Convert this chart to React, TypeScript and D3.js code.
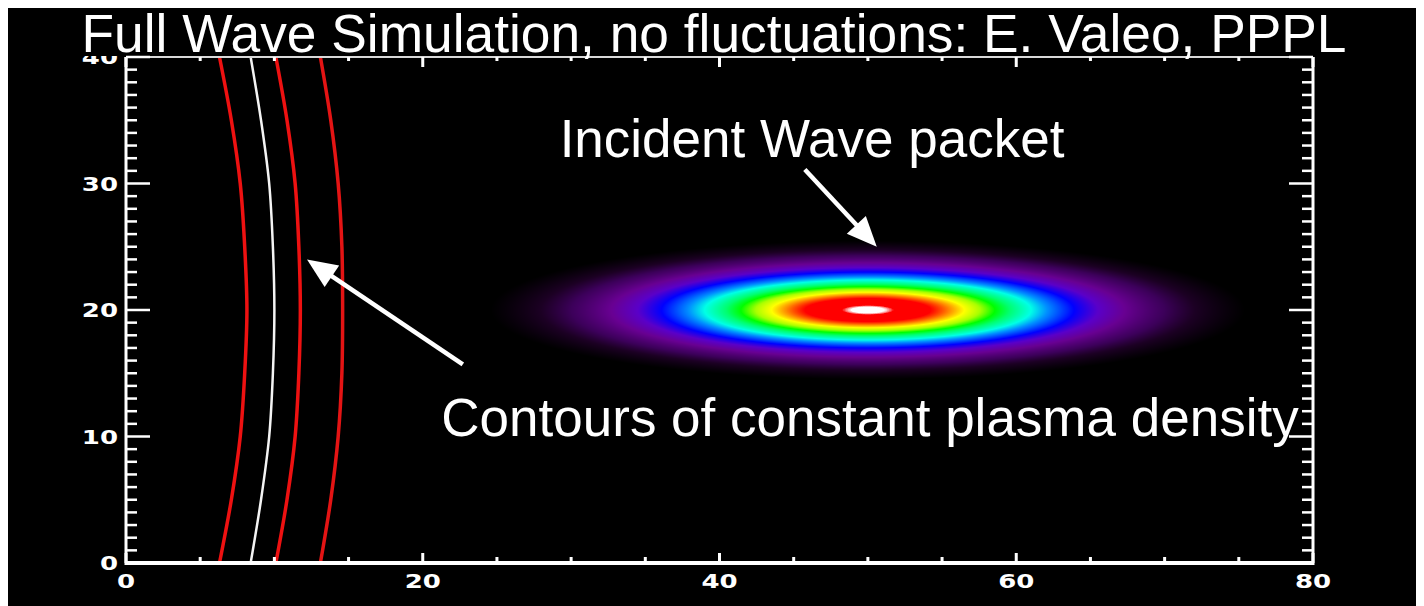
import React, { useMemo } from "react";
import * as d3 from "d3";

// Axis ranges and tick labels
const xDomain = [0, 80];
const yDomain = [0, 40];
const xTickValues = [0, 20, 40, 60, 80];
const yTickValues = [0, 10, 20, 30, 40];
const xMinorStep = 5;
const yMinorStep = 1;

// Density contours: x position of each contour at the sampled heights
const contourHeights = [0, 5, 10, 15, 20, 25, 30, 35, 40];
const contourInner = [6.3, 7.1, 7.7, 8.0, 8.15, 8.0, 7.7, 7.1, 6.3];
const contourCritical = [8.4, 9.1, 9.65, 9.9, 10.0, 9.9, 9.65, 9.1, 8.4];
const contourMiddle = [10.1, 10.85, 11.4, 11.65, 11.75, 11.65, 11.4, 10.85, 10.1];
const contourOuter = [13.1, 13.8, 14.3, 14.55, 14.6, 14.55, 14.3, 13.8, 13.1];

// Incident Gaussian wave packet: centre (x, y) and 1/e half-widths (x, y)
const packetCenter = [50, 20];
const packetWidth = [16, 3.45];

// Rainbow + white colour table
const tableStops = [0, 0.08, 0.15, 0.21, 0.31, 0.39, 0.47, 0.565, 0.623, 0.7, 0.751, 0.8, 0.848, 0.885, 0.932, 0.988, 0.995, 1];
const tableColors = [
  "#000000", "#000000", "#1c0024", "#3c005a", "#680092", "#5a00c8", "#0000ff",
  "#0090ff", "#00ffe6", "#00ff70", "#00ff00", "#a8ff00", "#ffff00", "#ff9400",
  "#ff0000", "#ff0000", "#ffffff", "#ffffff",
];

// Annotation arrows, in data coordinates: [tailX, tailY, tipX, tipY]
const packetArrow = [45.75, 31.1, 50.6, 25.0];
const contourArrow = [22.7, 15.7, 12.2, 24.0];

const titleText = "Full Wave Simulation, no fluctuations: E. Valeo, PPPL";
const packetLabel = "Incident Wave packet";
const contourLabel = "Contours of constant plasma density";

const PAGE_W = 1424;
const PAGE_H = 606;
const OFFSET = 8;
const PLOT = { left: 126, right: 1313, top: 57, bottom: 563 };
const SANS = "'Liberation Sans', Arial, Helvetica, sans-serif";
const TICK_FONT = "'DejaVu Sans', sans-serif";

function Arrow({ seg, x, y }: { seg: number[]; x: any; y: any }) {
  const x0 = x(seg[0]), y0 = y(seg[1]), x1 = x(seg[2]), y1 = y(seg[3]);
  const ang = Math.atan2(y1 - y0, x1 - x0);
  const headLen = 30, headHalf = 13;
  const bx = x1 - headLen * Math.cos(ang), by = y1 - headLen * Math.sin(ang);
  const nx = -Math.sin(ang), ny = Math.cos(ang);
  const pts = [
    [x1, y1],
    [bx + nx * headHalf, by + ny * headHalf],
    [bx - nx * headHalf, by - ny * headHalf],
  ];
  return (
    <g>
      <line x1={x0} y1={y0} x2={bx + 2 * Math.cos(ang)} y2={by + 2 * Math.sin(ang)} stroke="#fff" strokeWidth={4.5} />
      <polygon points={pts.map((p) => p.join(",")).join(" ")} fill="#fff" />
    </g>
  );
}

export default function App() {
  const x = d3.scaleLinear().domain(xDomain).range([PLOT.left, PLOT.right]);
  const y = d3.scaleLinear().domain(yDomain).range([PLOT.bottom, PLOT.top]);

  const packetImage = useMemo(() => {
    const w = Math.round(PLOT.right - PLOT.left);
    const h = Math.round(PLOT.bottom - PLOT.top);
    const canvas = document.createElement("canvas");
    canvas.width = w;
    canvas.height = h;
    const ctx = canvas.getContext("2d");
    if (!ctx) return "";
    const color = d3.scaleLinear<string>().domain(tableStops).range(tableColors).interpolate(d3.interpolateRgb).clamp(true);
    const N = 2048;
    const lut: number[][] = d3.range(N).map((i) => {
      const c = d3.rgb(color(i / (N - 1)));
      return [c.r, c.g, c.b];
    });
    const img = ctx.createImageData(w, h);
    for (let j = 0; j < h; j++) {
      const yy = y.invert(PLOT.top + j + 0.5);
      const dy = (yy - packetCenter[1]) / packetWidth[1];
      for (let i = 0; i < w; i++) {
        const xx = x.invert(PLOT.left + i + 0.5);
        const dx = (xx - packetCenter[0]) / packetWidth[0];
        const f = Math.exp(-(dx * dx + dy * dy));
        const c = lut[Math.min(N - 1, Math.floor(f * (N - 1)))];
        const k = (j * w + i) * 4;
        img.data[k] = c[0];
        img.data[k + 1] = c[1];
        img.data[k + 2] = c[2];
        img.data[k + 3] = 255;
      }
    }
    ctx.putImageData(img, 0, 0);
    return canvas.toDataURL();
  }, []);

  const contourLine = d3
    .line<[number, number]>()
    .x((d) => x(d[0]))
    .y((d) => y(d[1]))
    .curve(d3.curveCatmullRom);
  const contours = [
    { values: contourInner, stroke: "#ee1111", width: 3.5 },
    { values: contourCritical, stroke: "#f4f4f4", width: 2.5 },
    { values: contourMiddle, stroke: "#ee1111", width: 3.5 },
    { values: contourOuter, stroke: "#e41414", width: 3.5 },
  ];

  const xMinor = d3.range(xDomain[0], xDomain[1] + 0.001, xMinorStep).filter((v) => !xTickValues.includes(v));
  const yMinor = d3.range(yDomain[0], yDomain[1] + 0.001, yMinorStep).filter((v) => !yTickValues.includes(v));

  const xMajorLen = 10, xMinorLen = 6;
  const yMajorLen = 24, yMinorLen = 11;

  const tickLabel = (txt: string, px: number, py: number, anchor: "middle" | "end") => (
    <text
      key={txt + px + py}
      transform={`translate(${px},${py}) scale(1.3,1)`}
      textAnchor={anchor}
      dominantBaseline="central"
      fill="#fff"
      fontFamily={TICK_FONT}
      fontWeight="bold"
      fontSize={20}
    >
      {txt}
    </text>
  );

  return (
    <svg width={PAGE_W - OFFSET} height={PAGE_H - OFFSET} style={{ display: "block", background: "#000" }}>
      <g transform={`translate(${-OFFSET},${-OFFSET})`}>
        <rect x={OFFSET} y={OFFSET} width={PAGE_W} height={PAGE_H} fill="#000" />
        {packetImage && (
          <image href={packetImage} x={PLOT.left} y={PLOT.top} width={PLOT.right - PLOT.left} height={PLOT.bottom - PLOT.top} />
        )}

        {/* tick labels */}
        {yTickValues.map((v) => tickLabel(String(v), PLOT.left - 8, y(v), "end"))}
        {xTickValues.map((v) => tickLabel(String(v), x(v), PLOT.bottom + 18, "middle"))}

        {/* title box hides anything above the frame */}
        <rect x={OFFSET} y={OFFSET} width={PAGE_W} height={PLOT.top - OFFSET - 1} fill="#000" />

        {/* density contours */}
        {contours.map((c, i) => (
          <path
            key={i}
            d={contourLine(contourHeights.map((h, k) => [c.values[k], h]) as [number, number][]) || ""}
            fill="none"
            stroke={c.stroke}
            strokeWidth={c.width}
          />
        ))}

        {/* frame */}
        <g stroke="#fff" fill="none">
          <line x1={PLOT.left} x2={PLOT.right} y1={PLOT.bottom} y2={PLOT.bottom} strokeWidth={4} />
          <line x1={PLOT.left} x2={PLOT.right} y1={PLOT.top} y2={PLOT.top} strokeWidth={2} stroke="#d8d8d8" />
          <line x1={PLOT.left} x2={PLOT.left} y1={PLOT.top} y2={PLOT.bottom + 2} strokeWidth={3} />
          <line x1={PLOT.right} x2={PLOT.right} y1={PLOT.top} y2={PLOT.bottom + 2} strokeWidth={3} />
          {xTickValues.map((v) => (
            <g key={"xm" + v}>
              <line x1={x(v)} x2={x(v)} y1={PLOT.bottom} y2={PLOT.bottom - xMajorLen} strokeWidth={3} />
              <line x1={x(v)} x2={x(v)} y1={PLOT.top} y2={PLOT.top + xMajorLen} strokeWidth={3} />
            </g>
          ))}
          {xMinor.map((v) => (
            <g key={"xn" + v}>
              <line x1={x(v)} x2={x(v)} y1={PLOT.bottom} y2={PLOT.bottom - xMinorLen} strokeWidth={3} />
              <line x1={x(v)} x2={x(v)} y1={PLOT.top} y2={PLOT.top + xMinorLen - 2} strokeWidth={3} />
            </g>
          ))}
          {yTickValues.map((v) => (
            <g key={"ym" + v}>
              <line x1={PLOT.left} x2={PLOT.left + yMajorLen} y1={y(v)} y2={y(v)} strokeWidth={2.5} />
              <line x1={PLOT.right} x2={PLOT.right - yMajorLen} y1={y(v)} y2={y(v)} strokeWidth={2.5} />
            </g>
          ))}
          {yMinor.map((v) => (
            <g key={"yn" + v}>
              <line x1={PLOT.left} x2={PLOT.left + yMinorLen} y1={y(v)} y2={y(v)} strokeWidth={2.5} />
              <line x1={PLOT.right} x2={PLOT.right - yMinorLen} y1={y(v)} y2={y(v)} strokeWidth={2.5} />
            </g>
          ))}
        </g>

        {/* annotations */}
        <Arrow seg={packetArrow} x={x} y={y} />
        <Arrow seg={contourArrow} x={x} y={y} />

        <text x={714} y={52} textAnchor="middle" fill="#fff" fontFamily={SANS} fontSize={53.3}>
          {titleText}
        </text>
        <text x={812} y={157} textAnchor="middle" fill="#fff" fontFamily={SANS} fontSize={53}>
          {packetLabel}
        </text>
        <text x={870} y={436} textAnchor="middle" fill="#fff" fontFamily={SANS} fontSize={53}>
          {contourLabel}
        </text>
      </g>
    </svg>
  );
}
